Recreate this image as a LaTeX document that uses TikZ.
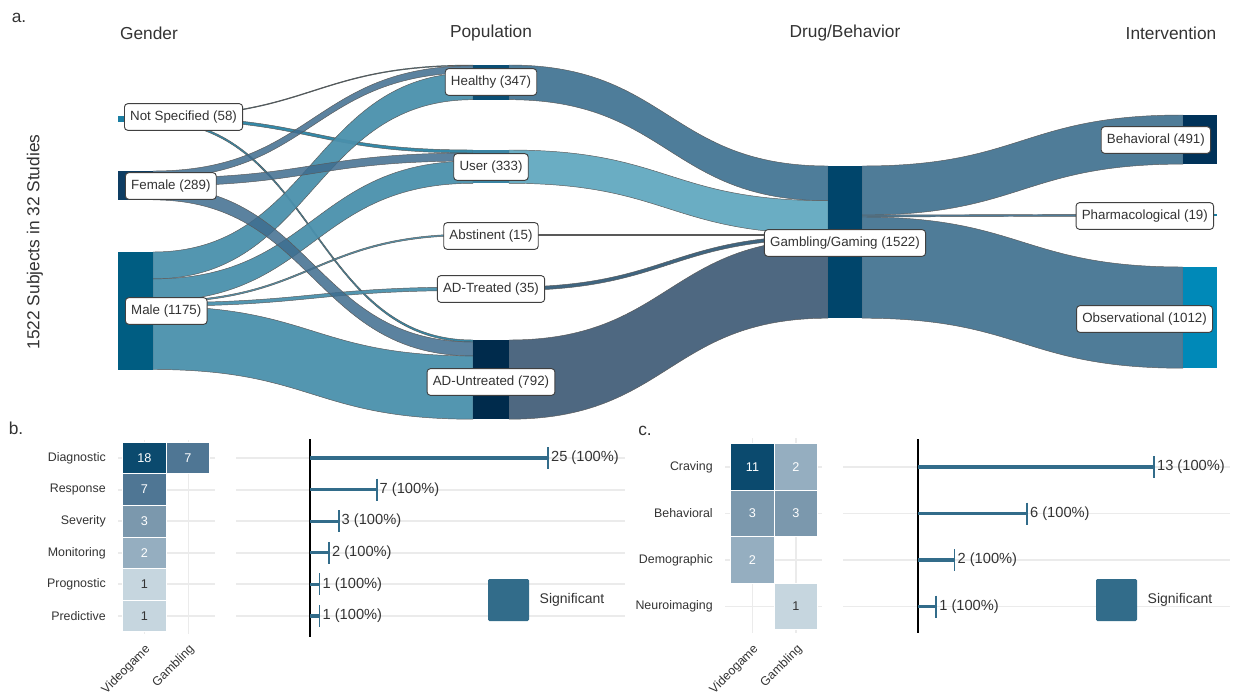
\documentclass[tikz,border=0pt]{standalone}
\usepackage{fontspec}
\setmainfont{Liberation Sans}
\definecolor{cNS}{HTML}{1E7C9E}
\definecolor{cFem}{HTML}{3E6C8E}
\definecolor{cMale}{HTML}{4A90AC}
\definecolor{cHealthyL}{HTML}{4E7D9A}
\definecolor{cUserL}{HTML}{6AADC3}
\definecolor{cAbsL}{HTML}{4A4F58}
\definecolor{cTrtL}{HTML}{3F6580}
\definecolor{cUntL}{HTML}{4E6881}
\definecolor{cDrugL}{HTML}{4F7C98}
\definecolor{bNS}{HTML}{1A7EA3}
\definecolor{bFem}{HTML}{0E3D63}
\definecolor{bMale}{HTML}{005D82}
\definecolor{bHealthy}{HTML}{0B4E74}
\definecolor{bUser}{HTML}{3A84A3}
\definecolor{bUnt}{HTML}{002B4C}
\definecolor{bDrug}{HTML}{00456B}
\definecolor{bBeh}{HTML}{003259}
\definecolor{bObs}{HTML}{0089B8}
\definecolor{tOne}{HTML}{C6D6DF}
\definecolor{tTwo}{HTML}{95AEC0}
\definecolor{tThree}{HTML}{7B98AD}
\definecolor{tSeven}{HTML}{4F7694}
\definecolor{tTop}{HTML}{0B4A6E}
\definecolor{sigblue}{HTML}{326C8A}
\definecolor{gridgray}{HTML}{EBEBEB}
\definecolor{txt}{HTML}{333333}

% one sankey band: x0, top y at source, x1, top y at target, thickness, colour, opacity
\newcommand\flowband[7]{%
  \pgfmathsetmacro\fxm{(#1+#3)/2}%
  \pgfmathsetmacro\fya{#2+#5}%
  \pgfmathsetmacro\fyb{#4+#5}%
  \filldraw[flowedge, fill=#6, fill opacity=#7] (#1,#2) .. controls (\fxm,#2) and (\fxm,#4) .. (#3,#4)
    -- (#3,\fyb) .. controls (\fxm,\fyb) and (\fxm,\fya) .. (#1,\fya) -- cycle;
}

\begin{document}
\begin{tikzpicture}[x=0.75pt,y=-0.75pt,
  flowedge/.style={draw=black!65, line width=0.35pt},
  sbox/.style={draw=black!75, fill=white, rounded corners=2.5pt, line width=0.7pt,
    font=\fontsize{10}{12}\selectfont, text=txt, inner xsep=4.3pt, inner ysep=0pt,
    minimum height=20pt},
  head/.style={font=\fontsize{13}{15}\selectfont, text=txt},
  panel/.style={font=\fontsize{13}{15}\selectfont, text=txt},
  rowlab/.style={font=\fontsize{9.3}{11}\selectfont, text=txt, anchor=east, inner sep=0pt},
  tile/.style={draw=white, line width=0.6pt, minimum width=32.6pt, inner sep=0pt,
    font=\fontsize{9.5}{11}\selectfont, text=white},
  tileb/.style={tile, minimum height=23.7pt},
  tilec/.style={tile, minimum height=35pt},
  gridln/.style={draw=gridgray, line width=1.4pt},
  axisln/.style={draw=black, line width=1.7pt},
  barln/.style={draw=sigblue, line width=2.4pt},
  bartick/.style={draw=sigblue, line width=1.4pt},
  vlab/.style={font=\fontsize{11}{12}\selectfont, anchor=west, text=txt, inner sep=1pt},
  xlab/.style={font=\fontsize{9.3}{10}\selectfont, text=txt, rotate=45, anchor=east, inner sep=0.5pt},
  legsq/.style={fill=sigblue, rounded corners=1pt},
  leglab/.style={font=\fontsize{10.5}{12}\selectfont, text=txt, anchor=west}]
\useasboundingbox (0,0) rectangle (1233,696);

% ---------------- panel a: sankey ----------------
\node[panel] (la) at (19,18) {a.};
\node[head] (hGender) at (149,33) {Gender};
\node[head] (hPop) at (491,33) {Population};
\node[head] (hDrug) at (845,33) {Drug/Behavior};
\node[head] (hInt) at (1171,33) {Intervention};
\node[head, rotate=90] (ylab) at (35,242) {1522 Subjects in 32 Studies};

% gender -> population
\flowband{153}{116}{473}{65}{0.8}{cNS}{0.9}
\flowband{153}{116.8}{473}{150}{3.0}{cNS}{0.9}
\flowband{153}{119.8}{473}{340}{2.0}{cNS}{0.9}
\flowband{153}{252}{473}{72.8}{26.9}{cMale}{0.95}
\flowband{153}{278.9}{473}{161}{22.3}{cMale}{0.95}
\flowband{153}{301.2}{473}{234}{1.5}{cMale}{0.95}
\flowband{153}{302.7}{473}{287}{3.5}{cMale}{0.95}
\flowband{153}{306.2}{473}{355.9}{63.3}{cMale}{0.95}
\flowband{153}{171}{473}{65.8}{7.0}{cFem}{0.85}
\flowband{153}{178}{473}{153}{8.0}{cFem}{0.85}
\flowband{153}{186}{473}{342}{13.9}{cFem}{0.85}

% population -> drug/behaviour
\flowband{509}{65}{828}{166}{34.7}{cHealthyL}{1}
\flowband{509}{150}{828}{200.7}{33.3}{cUserL}{1}
\flowband{509}{234}{828}{234}{1.5}{cAbsL}{1}
\flowband{509}{287}{828}{235.5}{3.5}{cTrtL}{1}
\flowband{509}{340}{828}{239}{79.2}{cUntL}{1}

% drug/behaviour -> intervention
\flowband{862}{166}{1183}{115}{49.1}{cDrugL}{1}
\flowband{862}{215.1}{1183}{214}{1.9}{cDrugL}{1}
\flowband{862}{217}{1183}{267}{101.2}{cDrugL}{1}

% stratum bars
\fill[bNS] (118,116) rectangle (153,121.8);
\fill[bFem] (118,171) rectangle (153,199.9);
\fill[bMale] (118,252) rectangle (153,369.5);
\fill[bHealthy] (473,65) rectangle (509,99.7);
\fill[bUser] (473,150) rectangle (509,183.3);
\fill[cAbsL] (473,234) rectangle (509,235.5);
\fill[cTrtL] (473,287) rectangle (509,290.5);
\fill[bUnt] (473,340) rectangle (509,419.2);
\fill[bDrug] (828,166) rectangle (862,318.2);
\fill[bBeh] (1183,115) rectangle (1217,164.1);
\fill[bNS] (1183,214) rectangle (1217,215.9);
\fill[bObs] (1183,267) rectangle (1217,368.2);

% stratum labels
\node[sbox, anchor=west] (ns) at (124,117) {Not Specified (58)};
\node[sbox, anchor=west] (fem) at (125,186) {Female (289)};
\node[sbox, anchor=west] (male) at (125,311) {Male (1175)};
\node[sbox] (healthy) at (491,82) {Healthy (347)};
\node[sbox] (user) at (491,167) {User (333)};
\node[sbox] (abst) at (491,236) {Abstinent (15)};
\node[sbox] (adt) at (491,289) {AD-Treated (35)};
\node[sbox] (adu) at (491,382) {AD-Untreated (792)};
\node[sbox] (gg) at (845,243) {Gambling/Gaming (1522)};
\node[sbox, anchor=east] (beh) at (1211,140) {Behavioral (491)};
\node[sbox, anchor=east] (pharm) at (1214,216) {Pharmacological (19)};
\node[sbox, anchor=east] (obs) at (1213,319) {Observational (1012)};

% ---------------- panel b ----------------
\node[panel] (lb) at (16,428) {b.};
\foreach \yy in {458,489.6,521.2,552.8,584.4,616} {
  \draw[gridln] (118,\yy) -- (215,\yy);
  \draw[gridln] (236,\yy) -- (625,\yy);
}
\draw[gridln] (144.5,440) -- (144.5,634);
\draw[gridln] (188.5,440) -- (188.5,634);

\node[rowlab] (rDiag) at (106,458) {Diagnostic};
\node[rowlab] (rResp) at (106,489.6) {Response};
\node[rowlab] (rSev) at (106,521.2) {Severity};
\node[rowlab] (rMon) at (106,552.8) {Monitoring};
\node[rowlab] (rProg) at (106,584.4) {Prognostic};
\node[rowlab] (rPred) at (106,616) {Predictive};

\node[tileb, fill=tTop] (bDV) at (144.5,458) {18};
\node[tileb, fill=tSeven] (bDG) at (188,458) {7};
\node[tileb, fill=tSeven] (bRV) at (144.5,489.6) {7};
\node[tileb, fill=tThree] (bSV) at (144.5,521.2) {3};
\node[tileb, fill=tTwo] (bMV) at (144.5,552.8) {2};
\node[tileb, fill=tOne, text=txt] (bPgV) at (144.5,584.4) {1};
\node[tileb, fill=tOne, text=txt] (bPdV) at (144.5,616) {1};

\node[xlab] (bxV) at (149,647) {Videogame};
\node[xlab] (bxG) at (193,647) {Gambling};

\draw[axisln] (310,439) -- (310,637);
\foreach \yy/\xe/\lab in {458/548/25, 489.6/376.6/7, 521.2/338.6/3, 552.8/329/2, 584.4/319.5/1, 616/319.5/1} {
  \draw[barln] (310,\yy) -- (\xe,\yy);
  \draw[bartick] (\xe,\yy-11) -- (\xe,\yy+11);
  \node[vlab] at (\xe+1.5,\yy) {\lab\ (100\%)};
}
\fill[legsq] (488,579) rectangle (529,621);
\node[leglab] (bsig) at (535,600) {Significant};

% ---------------- panel c ----------------
\node[panel] (lc) at (645,431) {c.};
\foreach \yy in {467,513.5,560,606.5} {
  \draw[gridln] (725,\yy) -- (822,\yy);
  \draw[gridln] (843,\yy) -- (1230,\yy);
}
\draw[gridln] (752.5,438) -- (752.5,633);
\draw[gridln] (796,438) -- (796,633);

\node[rowlab] (rCrav) at (713,467) {Craving};
\node[rowlab] (rBeh) at (713,513.5) {Behavioral};
\node[rowlab] (rDem) at (713,560) {Demographic};
\node[rowlab] (rNeu) at (713,606.5) {Neuroimaging};

\node[tilec, fill=tTop] (cCV) at (752.5,467) {11};
\node[tilec, fill=tTwo] (cCG) at (796,467) {2};
\node[tilec, fill=tThree] (cBV) at (752.5,513.5) {3};
\node[tilec, fill=tThree] (cBG) at (796,513.5) {3};
\node[tilec, fill=tTwo] (cDV) at (752.5,560) {2};
\node[tilec, fill=tOne, text=txt] (cNG) at (796,606.5) {1};

\node[xlab] (cxV) at (757,647) {Videogame};
\node[xlab] (cxG) at (801,647) {Gambling};

\draw[axisln] (918,439) -- (918,633);
\foreach \yy/\xe/\lab in {467/1154/13, 513.5/1027/6, 560/954.5/2, 606.5/936.2/1} {
  \draw[barln] (918,\yy) -- (\xe,\yy);
  \draw[bartick] (\xe,\yy-11) -- (\xe,\yy+11);
  \node[vlab] at (\xe+1.5,\yy) {\lab\ (100\%)};
}
\fill[legsq] (1096,579) rectangle (1137,621);
\node[leglab] (csig) at (1143,600) {Significant};
\end{tikzpicture}
\end{document}
